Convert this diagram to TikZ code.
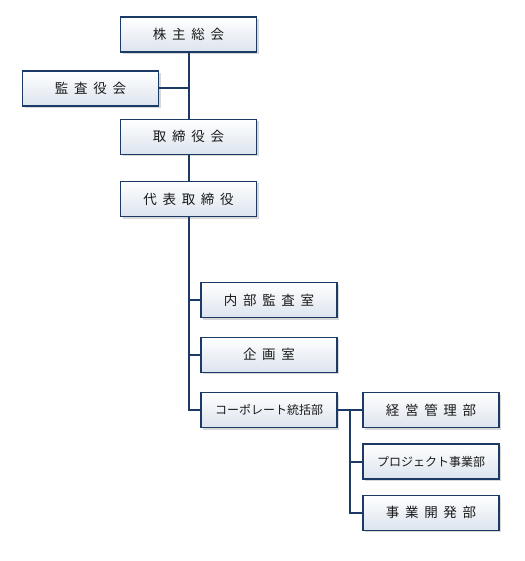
\documentclass[tikz,border=0pt]{standalone}
\usepackage{fontspec}
\usepackage{xcolor}
\usetikzlibrary{shadows}
\setmainfont{Noto Sans CJK JP}
\newfontfamily\jpwide[LetterSpace=42]{Noto Sans CJK JP}
\definecolor{orgnavy}{HTML}{1B3A66}
\definecolor{orgfill}{HTML}{DCE4EE}
\definecolor{orgtext}{HTML}{1A1A1A}

\tikzset{
  orgbox/.style={draw=orgnavy, line width=1.2pt, top color=white, bottom color=orgfill,
    minimum width=136pt, minimum height=35pt, inner sep=0pt, text=orgtext,
    drop shadow={shadow xshift=2pt, shadow yshift=-2pt, opacity=0.25, fill=black!60}},
  wide/.style={font=\jpwide\fontsize{13.5}{13.5}\selectfont},
  tight/.style={font=\fontsize{12}{12}\selectfont},
  orgline/.style={draw=orgnavy, line width=2pt}
}

\begin{document}
\begin{tikzpicture}[x=1pt,y=-1pt]
\useasboundingbox[fill=white] (0,0) rectangle (524,561);
%---------------------------------------------------
\node[orgbox,wide] (soukai)  at (188.5,34.5)  {株主総会};
\node[orgbox,wide] (kansa)   at (90.5,88.5)   {監査役会};
\node[orgbox,wide] (torikai) at (188.5,136.8) {取締役会};
\node[orgbox,wide] (daihyo)  at (188.5,199)   {代表取締役};
%---------------------------------------------------
\node[orgbox,wide]  (naibu)  at (269,300.2)   {内部監査室};
\node[orgbox,wide]  (kikaku) at (269,354.7)   {企画室};
\node[orgbox,tight] (corp)   at (269,410)     {コーポレート統括部};
%---------------------------------------------------
\node[orgbox,wide]  (keiei)  at (431,410)     {経営管理部};
\node[orgbox,tight] (proj)   at (431,461.5)   {プロジェクト事業部};
\node[orgbox,wide]  (kaihatsu) at (431,512.8) {事業開発部};
%---------------------------------------------------
\draw[orgline] (soukai.south) -- (torikai.north);
\draw[orgline] (kansa.east) -- (kansa.east -| soukai.south);
\draw[orgline] (torikai.south) -- (daihyo.north);
\draw[orgline] (daihyo.south) |- (corp.west);
\draw[orgline] (naibu.west) -| (daihyo.south);
\draw[orgline] (kikaku.west) -| (daihyo.south);
\coordinate (bunki) at (350,410);
\draw[orgline] (corp.east) -- (keiei.west);
\draw[orgline] (bunki) |- (proj.west);
\draw[orgline] (bunki) |- (kaihatsu.west);
\end{tikzpicture}
\end{document}
